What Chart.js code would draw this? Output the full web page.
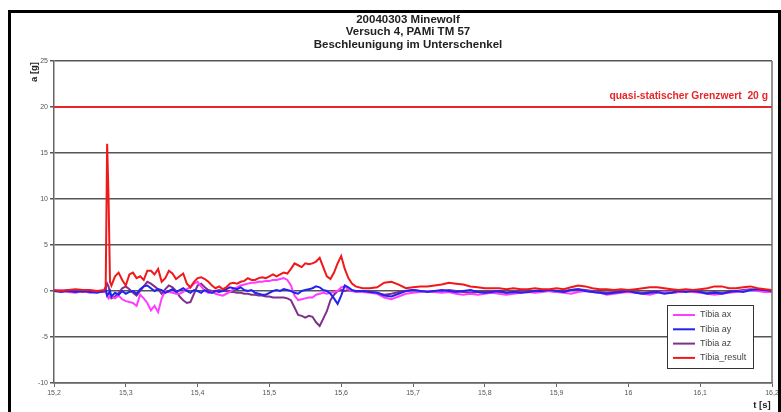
<!DOCTYPE html>
<html>
<head>
<meta charset="utf-8">
<script src="https://cdn.jsdelivr.net/npm/chart.js@4.4.1/dist/chart.umd.min.js"></script>
<style>
  body { margin: 0; background: #fff; }
  #wrap { width: 781px; height: 412px; }
</style>
</head>
<body>
<div id="wrap"><canvas id="chart" width="781" height="412"></canvas></div>
<script>
const titleLines = ["20040303 Minewolf", "Versuch 4, PAMi TM 57", "Beschleunigung im Unterschenkel"];
const limitValue = 20;
const limitLabel = "quasi-statischer Grenzwert  20 g";

// time stamps [s]
const time = [
  15.20,15.21,15.22,15.23,15.24,15.25,15.26,15.27,15.272,15.274,15.276,15.278,
  15.280,15.285,15.290,15.295,15.300,15.305,15.310,15.315,15.320,15.325,
  15.330,15.335,15.340,15.345,15.350,15.355,15.360,15.365,15.370,15.375,
  15.380,15.385,15.390,15.395,15.400,15.405,15.410,15.415,15.420,15.425,
  15.430,15.435,15.440,15.445,15.450,15.455,15.460,15.465,15.470,15.475,
  15.480,15.485,15.490,15.495,15.500,15.505,15.510,15.515,15.520,15.525,
  15.530,15.535,15.540,15.545,15.550,15.555,15.560,15.565,15.570,15.575,
  15.580,15.585,15.590,15.595,15.600,15.605,15.610,15.615,15.620,
  15.63,15.64,15.65,15.66,15.67,15.68,15.69,15.70,15.71,15.72,
  15.73,15.74,15.75,15.76,15.77,15.78,15.79,15.80,15.81,15.82,
  15.83,15.84,15.85,15.86,15.87,15.88,15.89,15.90,15.91,15.92,
  15.93,15.94,15.95,15.96,15.97,15.98,15.99,16.00,16.01,16.02,
  16.03,16.04,16.05,16.06,16.07,16.08,16.09,16.10,16.11,16.12,
  16.13,16.14,16.15,16.16,16.17,16.18,16.19,16.20
];

const tibiaAx = [
  0.0,0.1,-0.1,-0.2,0.0,-0.2,-0.1,-0.1,0.0,-0.5,-0.8,-0.6,
  -0.6,-0.8,-0.5,-0.9,-1.1,-1.2,-1.3,-1.6,-0.4,-0.8,
  -1.3,-2.1,-1.6,-2.3,-0.8,0.0,-0.1,-0.2,-0.3,-0.3,
  -0.1,0.2,0.4,0.8,1.0,0.5,0.0,-0.2,-0.1,-0.3,
  -0.4,-0.5,-0.3,-0.1,0.2,0.4,0.6,0.7,0.8,0.9,
  0.9,1.0,1.0,1.1,1.1,1.2,1.2,1.3,1.4,1.2,
  0.6,-0.5,-1.0,-0.9,-0.8,-0.7,-0.7,-0.4,-0.3,-0.2,
  -0.3,-0.2,-0.1,0.0,0.4,0.5,0.2,0.0,-0.1,
  -0.1,-0.2,-0.3,-0.7,-0.9,-0.6,-0.3,-0.2,-0.1,0.0,
  -0.1,-0.2,-0.1,-0.3,-0.4,-0.3,-0.4,-0.3,-0.2,-0.3,
  -0.4,-0.3,-0.2,-0.1,-0.2,-0.1,0.0,-0.1,-0.2,-0.3,
  -0.1,0.0,-0.1,-0.2,-0.4,-0.3,-0.2,-0.1,-0.2,-0.3,
  -0.4,-0.2,-0.1,-0.2,-0.1,0.0,-0.1,-0.2,-0.3,-0.4,
  -0.3,-0.2,-0.1,0.0,0.1,0.0,-0.1,-0.1
];

const tibiaAy = [
  0.0,-0.1,0.0,-0.1,0.0,-0.1,-0.2,0.0,0.2,-0.5,-0.3,0.0,
  -0.6,-0.2,-0.4,0.0,-0.3,-0.1,0.0,-0.3,0.2,0.5,
  0.6,0.3,0.0,0.2,0.1,-0.2,0.0,0.2,-0.1,0.1,
  0.3,0.0,-0.2,0.1,0.0,-0.2,0.1,-0.1,-0.2,0.0,
  -0.1,0.0,0.2,0.4,0.3,0.2,0.4,0.1,0.0,0.1,
  -0.2,-0.3,-0.4,-0.4,-0.2,0.0,0.1,0.0,0.2,0.1,
  0.0,-0.2,-0.3,0.0,0.1,0.2,0.3,0.5,0.4,0.1,
  0.0,-0.3,-0.8,-1.4,-0.5,0.6,0.4,0.1,0.0,
  0.0,-0.1,-0.2,-0.5,-0.6,-0.3,0.0,0.1,0.0,-0.1,
  0.0,0.1,0.0,-0.1,0.0,0.1,-0.1,-0.2,-0.1,0.0,
  -0.2,-0.1,-0.2,-0.1,0.0,0.0,0.1,0.0,-0.1,0.1,
  0.2,0.0,-0.1,-0.2,-0.3,-0.2,-0.1,0.0,-0.2,-0.3,
  -0.2,-0.1,-0.3,-0.2,0.0,-0.1,0.0,-0.1,-0.3,-0.2,
  -0.3,-0.1,0.0,-0.1,0.1,0.2,0.1,0.0
];

const tibiaAz = [
  0.0,0.0,0.1,0.0,-0.1,0.0,0.0,0.0,0.3,0.8,0.5,-0.3,
  -0.8,-0.6,-0.2,0.3,0.5,0.2,-0.2,-0.5,0.0,0.5,
  1.0,0.8,0.5,0.2,-0.3,0.2,0.6,0.4,0.0,-0.6,
  -1.0,-1.3,-1.2,-0.3,0.6,0.8,0.4,0.1,0.0,0.0,
  0.1,0.0,0.0,-0.1,-0.1,-0.2,-0.2,-0.3,-0.3,-0.4,
  -0.4,-0.5,-0.5,-0.6,-0.6,-0.7,-0.7,-0.7,-0.7,-0.8,
  -1.0,-1.8,-2.6,-2.7,-2.9,-2.7,-2.8,-3.4,-3.8,-3.0,
  -2.2,-1.0,-0.4,0.0,0.1,0.0,0.1,0.0,0.0,
  0.0,-0.1,-0.2,-0.4,-0.3,-0.1,0.0,0.1,0.0,0.0,
  -0.1,0.0,0.1,0.0,-0.1,-0.2,-0.1,-0.1,0.0,-0.1,
  -0.2,-0.1,0.0,-0.1,0.0,0.1,0.0,-0.1,0.0,0.1,
  0.2,0.1,0.0,-0.1,-0.2,-0.1,0.0,0.0,-0.1,-0.2,
  -0.1,0.0,-0.1,-0.2,-0.1,0.0,0.0,-0.1,-0.2,-0.1,
  -0.2,-0.1,0.0,0.1,0.2,0.1,0.0,0.0
];

const tibiaResult = [
  0.1,0.0,0.1,0.2,0.1,0.1,0.0,0.1,0.5,16.0,10.0,1.0,
  0.6,1.6,2.0,1.2,0.6,1.8,2.0,1.4,1.6,1.2,
  2.2,2.2,1.8,2.4,1.0,1.4,2.2,1.9,1.3,1.6,
  1.9,0.8,0.4,1.0,1.4,1.5,1.3,1.0,0.6,0.3,
  0.5,0.2,0.4,0.8,0.9,0.8,1.0,1.1,1.4,1.2,
  1.2,1.4,1.5,1.4,1.6,1.8,1.6,1.8,2.0,1.9,
  2.4,3.0,2.8,2.6,3.0,2.9,3.0,3.2,3.6,2.6,
  1.6,1.3,2.0,3.0,3.8,2.4,1.4,0.8,0.5,
  0.3,0.3,0.4,0.9,1.0,0.7,0.3,0.4,0.5,0.5,
  0.6,0.7,0.9,0.8,0.7,0.5,0.4,0.3,0.3,0.3,
  0.2,0.3,0.2,0.2,0.3,0.2,0.2,0.3,0.2,0.4,
  0.6,0.5,0.3,0.2,0.2,0.1,0.2,0.1,0.2,0.3,
  0.4,0.4,0.3,0.2,0.1,0.2,0.1,0.2,0.3,0.5,
  0.5,0.3,0.3,0.4,0.5,0.3,0.2,0.1
];

const seriesNames = ["Tibia ax", "Tibia ay", "Tibia az", "Tibia_result"];
const seriesColors = ["#ff3cff", "#2323f0", "#80308c", "#f01818"];

function points(values) {
  return time.map((t, i) => ({ x: t, y: values[i] }));
}

const font = "'Liberation Sans', Arial, sans-serif";

// frame, titles, limit label and legend box
const decor = {
  id: "decor",
  beforeDraw(chart) {
    const c = chart.ctx;
    c.save();
    c.fillStyle = "#fff";
    c.fillRect(0, 0, chart.width, chart.height);
    c.restore();
  },
  afterDraw(chart) {
    const c = chart.ctx;
    const a = chart.chartArea;
    c.save();

    // outer black frame
    c.strokeStyle = "#000";
    c.lineWidth = 3;
    c.strokeRect(9.5, 11.5, 770, 420);

    // right border of plot
    c.strokeStyle = "#707070";
    c.lineWidth = 1.5;
    c.beginPath();
    c.moveTo(a.right, a.top);
    c.lineTo(a.right, a.bottom);
    c.stroke();

    // titles
    c.fillStyle = "#222";
    c.font = "bold 11.5px " + font;
    c.textAlign = "center";
    c.textBaseline = "middle";
    titleLines.forEach((t, i) => c.fillText(t, 408, 19.5 + i * 12.5));

    // axis titles
    c.font = "bold 9.5px " + font;
    c.fillText("t [s]", 762, 405);
    c.save();
    c.translate(34, 72);
    c.rotate(-Math.PI / 2);
    c.fillText("a [g]", 0, 0);
    c.restore();

    // limit label
    const yLim = chart.scales.y.getPixelForValue(limitValue);
    c.fillStyle = "#e8262a";
    c.font = "bold 10.3px " + font;
    c.textAlign = "right";
    c.fillText(limitLabel, 768, yLim - 11);

    // legend
    const lx = 667, ly = 305, lw = 86, lh = 63;
    c.fillStyle = "#fff";
    c.fillRect(lx, ly, lw, lh);
    c.strokeStyle = "#333";
    c.lineWidth = 1;
    c.strokeRect(lx + 0.5, ly + 0.5, lw, lh);
    c.font = "9px " + font;
    c.textAlign = "left";
    seriesNames.forEach((name, i) => {
      const y = ly + 10 + i * 14.3;
      c.strokeStyle = seriesColors[i];
      c.lineWidth = 2;
      c.beginPath();
      c.moveTo(lx + 6, y);
      c.lineTo(lx + 28, y);
      c.stroke();
      c.fillStyle = "#444";
      c.fillText(name, lx + 33, y);
    });

    c.restore();
  }
};

const traceOrder = [2, 1, 3, 0];

new Chart(document.getElementById("chart"), {
  type: "line",
  data: {
    datasets: seriesNames.map((name, i) => ({
      label: name,
      data: points([tibiaAx, tibiaAy, tibiaAz, tibiaResult][i]),
      borderColor: seriesColors[i],
      borderWidth: 2,
      pointRadius: 0,
      tension: 0,
      order: traceOrder[i]
    })).concat([{
      label: "Grenzwert",
      data: [{ x: 15.2, y: limitValue }, { x: 16.2, y: limitValue }],
      borderColor: "#e8262a",
      borderWidth: 2,
      pointRadius: 0,
      order: 5
    }])
  },
  options: {
    responsive: false,
    animation: false,
    layout: { padding: { top: 61, right: 9, left: 0, bottom: 0 } },
    plugins: {
      legend: { display: false },
      title: { display: false },
      tooltip: { enabled: false }
    },
    scales: {
      x: {
        type: "linear",
        min: 15.2,
        max: 16.2,
        afterFit: s => { s.height = 29; },
        ticks: {
          stepSize: 0.1,
          autoSkip: false,
          maxRotation: 0,
          padding: 2,
          color: "#555",
          font: { family: font, size: 7 },
          callback: v => String(Number(v.toFixed(1))).replace(".", ",")
        },
        grid: {
          drawOnChartArea: false,
          tickLength: 4,
          color: "#666"
        },
        border: { color: "#666", width: 1.5 }
      },
      y: {
        min: -10,
        max: 25,
        afterFit: s => { s.width = 54; },
        ticks: {
          stepSize: 5,
          padding: 2,
          color: "#555",
          font: { family: font, size: 7 }
        },
        grid: {
          color: "#555",
          lineWidth: 1.5,
          tickLength: 4
        },
        border: { color: "#666", width: 1.5 }
      }
    }
  },
  plugins: [decor]
});
</script>
</body>
</html>
